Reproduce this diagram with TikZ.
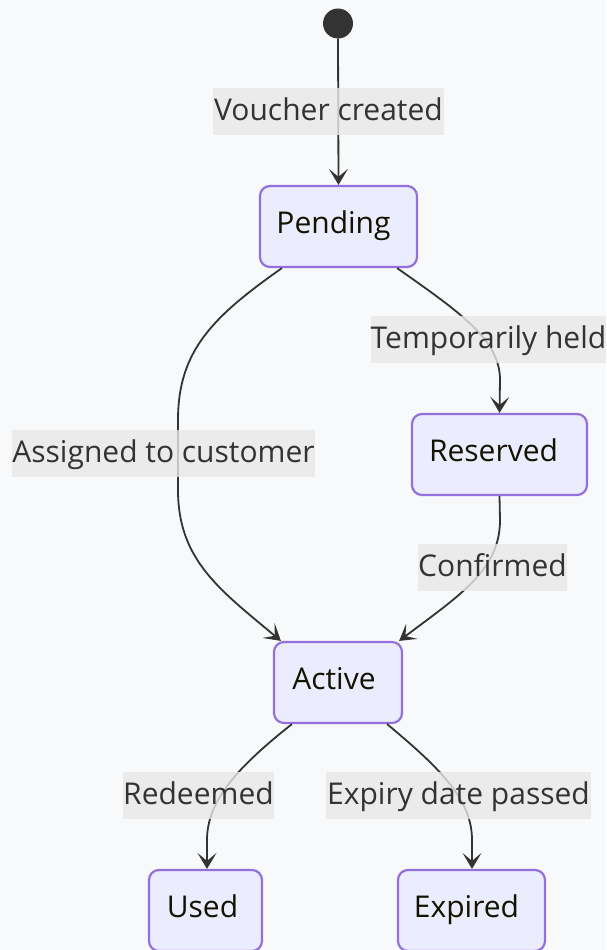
\documentclass[tikz,border=0pt]{standalone}
\usepackage{fontspec}
\setmainfont{Open Sans}
\usetikzlibrary{arrows.meta}
\definecolor{bg}{HTML}{F8F9FA}
\definecolor{nodefill}{HTML}{ECECFF}
\definecolor{nodeline}{HTML}{9370DB}
\definecolor{edge}{HTML}{333333}
\definecolor{lblfill}{HTML}{E8E8E8}
\definecolor{nodetext}{HTML}{131300}
\tikzset{
  statebox/.style={draw=nodeline, fill=nodefill, line width=2.2pt, rounded corners=10pt,
    minimum height=81pt, inner sep=0pt, text=nodetext, text height=22pt, text depth=9pt,
    font=\fontsize{30}{36}\selectfont},
  edgelbl/.style={fill=lblfill, fill opacity=0.8, text opacity=1, text=edge, inner sep=0pt,
    minimum height=47pt, text height=22pt, text depth=5pt, font=\fontsize{30}{36}\selectfont},
  conn/.style={draw=edge, line width=1.8pt, -{Stealth[length=16pt,width=19pt,inset=8pt]}},
}
\begin{document}
\begin{tikzpicture}[x=1pt,y=-1pt]
\fill[bg] (0,0) rectangle (606,950);
\useasboundingbox (0,0) rectangle (606,950);
% states
\fill[edge] (338,23.5) circle (15) coordinate (start);
\node[statebox, minimum width=157pt] (pending) at (338.5,226.5) {Pending\kern10pt};
\node[statebox, minimum width=175pt] (reserved) at (499.5,454.5) {Reserved\kern12pt};
\node[statebox, minimum width=128pt] (active) at (338,682.5) {Active\kern8pt};
\node[statebox, minimum width=113pt] (used) at (205.5,910.5) {Used\kern6pt};
\node[statebox, minimum width=147pt] (expired) at (471.5,910.5) {Expired\kern10pt};
% connectors
\coordinate (s0) at (338,38.5);
\draw[conn] (s0) -- (pending.north);
\draw[conn] (pending.south west) ++(23,0) .. controls +(-68,48) and (178,350) .. (178,420) -- (178,490) .. controls (178,560) and (220,590) .. ([xshift=8pt]active.north west);
\draw[conn] (pending.south east) ++(-21,0) .. controls +(64,45) and (500,340) .. (500,380) -- (reserved.north);
\draw[conn] (reserved.south) -- (500,520) .. controls (500,570) and (460,595) .. ([xshift=-4pt]active.north east);
\draw[conn] (active.south west) ++(19,0) .. controls +(-53,42) and (207,800) .. (207,840) -- ([xshift=1.5pt]used.north);
\draw[conn] (active.south east) ++(-16,0) .. controls +(54,45) and (472,800) .. (472,840) -- ([xshift=0.5pt]expired.north);
% labels
\node[edgelbl, minimum width=231pt] (l1) at (328.5,111.5) {Voucher created};
\node[edgelbl, minimum width=233pt] (l2) at (488.5,339.5) {Temporarily held};
\node[edgelbl, minimum width=303pt] (l3) at (163.5,453.5) {Assigned to customer};
\node[edgelbl, minimum width=147pt] (l4) at (492.5,567.5) {Confirmed};
\node[edgelbl, minimum width=149pt] (l5) at (198.5,795.5) {Redeemed};
\node[edgelbl, minimum width=265pt] (l6) at (458.5,795.5) {Expiry date passed};
\end{tikzpicture}
\end{document}
